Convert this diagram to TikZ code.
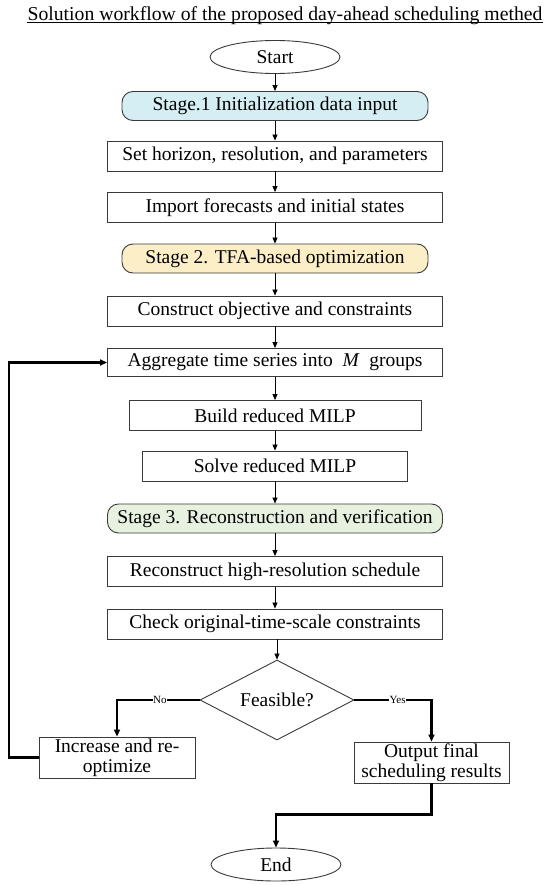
\documentclass[tikz,border=0pt]{standalone}
\usepackage{fontspec}
\setmainfont{Liberation Serif}
\usetikzlibrary{shapes.geometric,arrows.meta}
\definecolor{stageA}{HTML}{D5EEF3}
\definecolor{stageB}{HTML}{FCEFC8}
\definecolor{stageC}{HTML}{E7F1E0}
\definecolor{edgegray}{HTML}{3A3A3A}
\begin{document}
\begin{tikzpicture}[x=1pt,y=-1pt,
  basebox/.style={font=\fontsize{19.5}{20}\selectfont, inner sep=0pt, draw=edgegray, line width=0.9pt},
  procbox/.style={basebox, rectangle, minimum height=30pt},
  stagebox/.style={basebox, rectangle, rounded corners=11pt, minimum height=29pt},
  term/.style={basebox, ellipse, minimum width=130pt, minimum height=33pt},
  decision/.style={basebox, diamond, aspect=2, minimum width=154pt, minimum height=80pt},
  flow/.style={-{Triangle[length=6pt,width=5pt]}, line width=0.8pt, draw=black},
  boldflow/.style={-{Triangle[length=7pt,width=6pt]}, line width=2.1pt, draw=black},
  lbl/.style={font=\fontsize{11}{11}\selectfont, fill=white, inner sep=0.5pt}
]
\useasboundingbox (0,0) rectangle (550,886);

\node[font=\fontsize{19.7}{20}\selectfont, inner sep=0pt, anchor=base] (title) at (285,20)
  {Solution workflow of the proposed day-ahead scheduling methed};
\draw[line width=0.8pt] ([yshift=-2.5pt]title.base west) -- ([yshift=-2.5pt]title.base east);

\node[term] (start) at (275,57) {Start};
\node[stagebox, fill=stageA, minimum width=306pt] (s1) at (275,106) {Stage.1 Initialization data input};
\node[procbox, minimum width=335pt] (set) at (275,156) {Set horizon, resolution, and parameters};
\node[procbox, minimum width=335pt] (imp) at (275,207.5) {Import forecasts and initial states};
\node[stagebox, fill=stageB, minimum width=306pt] (s2) at (275,258.5) {Stage 2. TFA-based optimization};
\node[procbox, minimum width=335pt] (con) at (275,311) {Construct objective and constraints};
\node[procbox, minimum width=335pt, minimum height=28pt] (agg) at (275,362.5) {Aggregate time series into\ \ \textit{M}\ \ groups};
\node[procbox, minimum width=292pt] (build) at (275,415.5) {Build reduced MILP};
\node[procbox, minimum width=265pt] (solve) at (275,466) {Solve reduced MILP};
\node[stagebox, fill=stageC, minimum width=335pt] (s3) at (275,518.5) {Stage 3. Reconstruction and verification};
\node[procbox, minimum width=335pt] (rec) at (275,571.5) {Reconstruct high-resolution schedule};
\node[procbox, minimum width=335pt] (chk) at (275,624) {Check original-time-scale constraints};
\node[decision] (feas) at (277,700) {Feasible?};
\node[procbox, minimum width=156pt, minimum height=41pt, align=center] (inc) at (117,757.5) {Increase and re-\\optimize};
\node[procbox, minimum width=155pt, minimum height=41pt, align=center] (out) at (431.5,762.5) {Output final\\scheduling results};
\node[term] (end) at (276,864.5) {End};

\draw[flow] (start) -- (s1);
\draw[flow] (s1) -- (set);
\draw[flow] (set) -- (imp);
\draw[flow] (imp) -- (s2);
\draw[flow] (s2) -- (con);
\draw[flow] (con) -- (agg);
\draw[flow] (agg) -- (build);
\draw[flow] (build) -- (solve);
\draw[flow] (solve) -- (s3);
\draw[flow] (s3) -- (rec);
\draw[flow] (rec) -- (chk);
\draw[flow] (chk.south -| feas.north) -- (feas.north);

\draw[boldflow] (feas.west) -| node[lbl, pos=0.24] {No} (inc.north);
\draw[boldflow] (feas.east) -| node[lbl, pos=0.28] {Yes} (out.north);
\draw[boldflow] (out.south) -- ++(0,31) -| (end.north);
\draw[boldflow] (inc.west) -- ++(-30,0) |- (agg.west);
\end{tikzpicture}
\end{document}
